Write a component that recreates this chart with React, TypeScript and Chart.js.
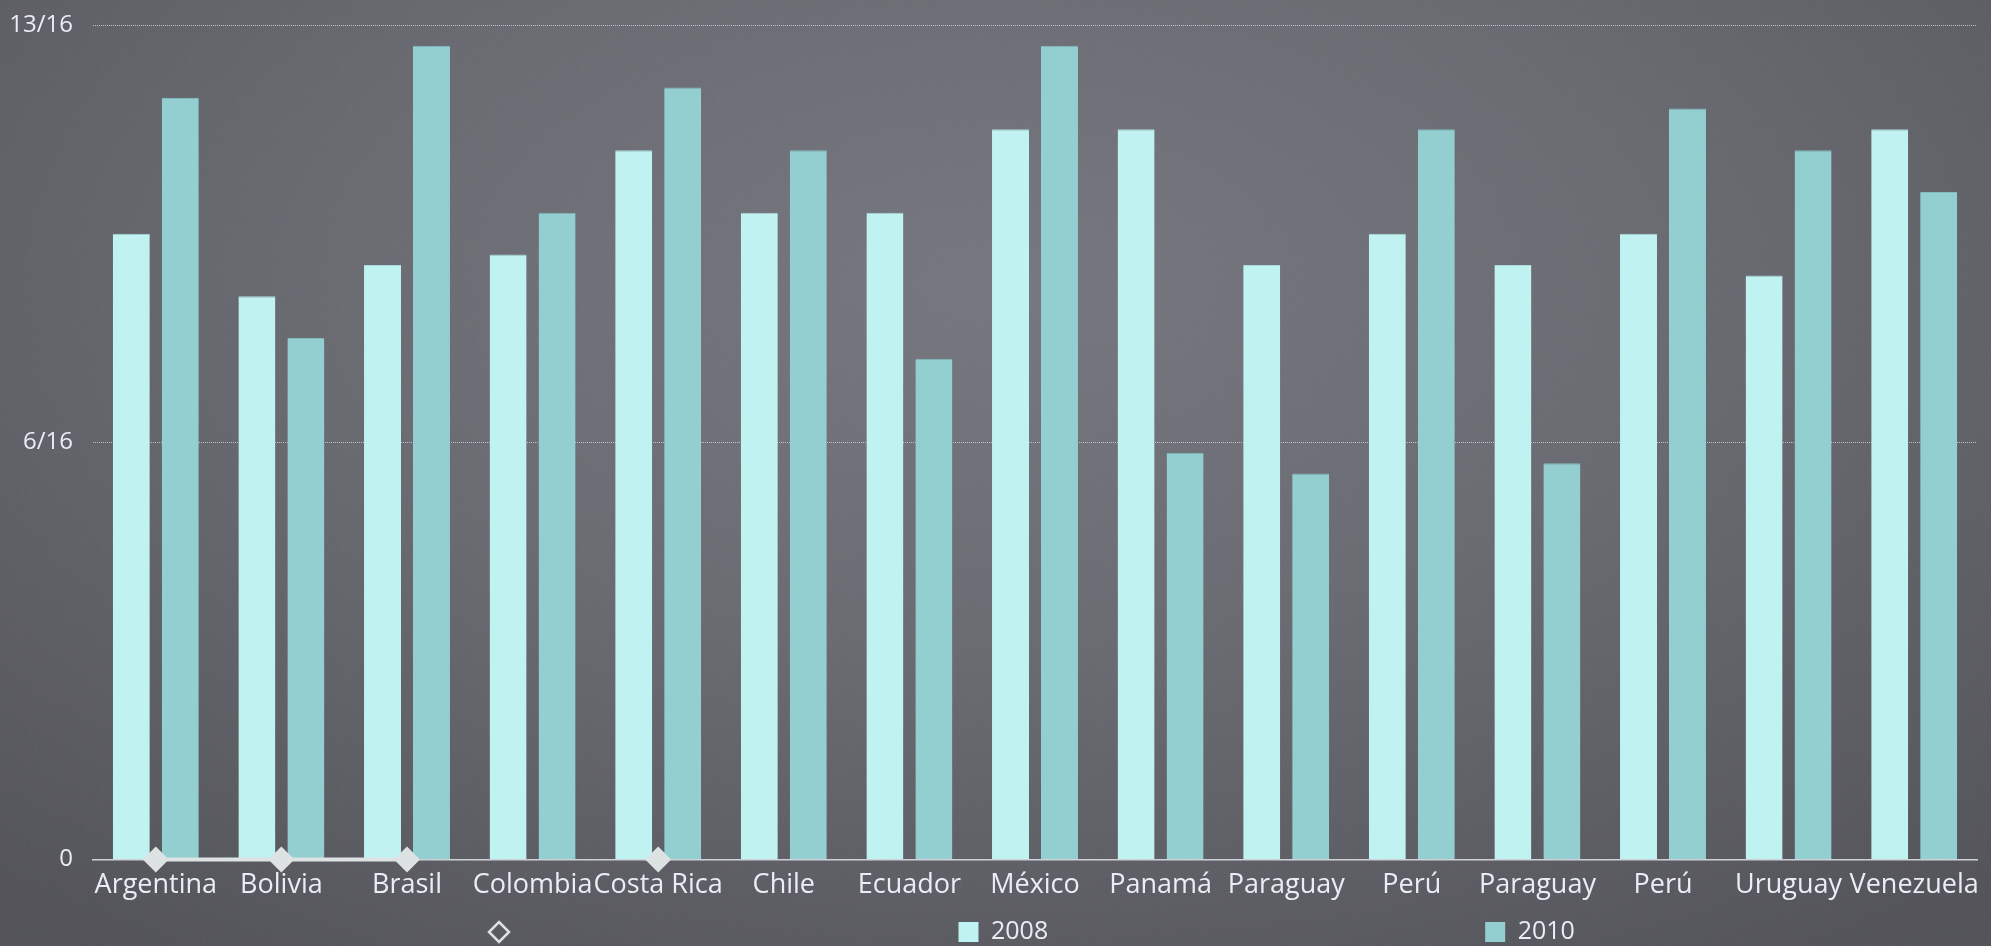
import { useEffect, useRef } from "react";
import { Chart, registerables } from "chart.js";

Chart.register(...registerables);

// Countries along the category axis
const countries = [
  "Argentina",
  "Bolivia",
  "Brasil",
  "Colombia",
  "Costa Rica",
  "Chile",
  "Ecuador",
  "México",
  "Panamá",
  "Paraguay",
  "Perú",
  "Paraguay",
  "Perú",
  "Uruguay",
  "Venezuela",
];

// Index values per year
const values2008 = [0.6, 0.54, 0.57, 0.58, 0.68, 0.62, 0.62, 0.7, 0.7, 0.57, 0.6, 0.57, 0.6, 0.56, 0.7];
const values2010 = [0.73, 0.5, 0.78, 0.62, 0.74, 0.68, 0.48, 0.78, 0.39, 0.37, 0.7, 0.38, 0.72, 0.68, 0.64];

// Marker series sitting on the baseline (gaps where no value)
const markerValues: (number | null)[] = [0, 0, 0, null, 0, null, null, null, null, null, null, null, null, null, null];
const markerLabel = "";

// Value axis range and tick step; ticks are shown as sixteenths
const yMin = 0;
const yMax = 0.8;
const yStep = 0.4;
const tickDenominator = 16;

const FONT = "'Open Sans', 'Noto Sans', sans-serif";
const TEXT_COLOR = "#ececf8";
const COLOR_2008 = "#c0f2f2";
const COLOR_2010 = "#93cfd1";
const MARKER_COLOR = "#dde3e3";

const LEGEND_FONT_SIZE = 25;
const LEGEND_BOX = 20;
const LEGEND_GAP = 437;
const LEGEND_START = 396;
const LEGEND_FROM_BOTTOM = 14;

const formatSixteenths = (v: number) => {
  const n = Math.round(v * tickDenominator);
  return n === 0 ? "0" : `${n}/${tickDenominator}`;
};

// Legend drawn as one wide row under the category labels
const bottomLegend = {
  id: "bottomLegend",
  afterDraw(chart: any) {
    const { ctx, chartArea } = chart;
    const y = chart.height - LEGEND_FROM_BOTTOM;
    let x = chartArea.left + LEGEND_START;
    ctx.save();
    ctx.font = `${LEGEND_FONT_SIZE}px ${FONT}`;
    ctx.textBaseline = "middle";
    ctx.textAlign = "left";
    chart.data.datasets.forEach((ds: any) => {
      const half = LEGEND_BOX / 2;
      if (ds.type === "line") {
        ctx.beginPath();
        ctx.moveTo(x + half, y - half);
        ctx.lineTo(x + LEGEND_BOX, y);
        ctx.lineTo(x + half, y + half);
        ctx.lineTo(x, y);
        ctx.closePath();
        ctx.lineWidth = 2.5;
        ctx.strokeStyle = MARKER_COLOR;
        ctx.stroke();
      } else {
        ctx.fillStyle = ds.backgroundColor;
        ctx.fillRect(x, y - half, LEGEND_BOX, LEGEND_BOX);
      }
      const label = ds.label || "";
      const tx = x + LEGEND_BOX + LEGEND_FONT_SIZE / 2;
      ctx.fillStyle = TEXT_COLOR;
      ctx.fillText(label, tx, y);
      x = tx + ctx.measureText(label).width + LEGEND_GAP;
    });
    ctx.restore();
  },
};

const noise =
  "url(\"data:image/svg+xml;utf8,<svg xmlns='http://www.w3.org/2000/svg' width='240' height='240'><filter id='n'><feTurbulence type='fractalNoise' baseFrequency='0.9' numOctaves='2' stitchTiles='stitch'/><feColorMatrix type='saturate' values='0'/></filter><rect width='100%' height='100%' filter='url(%23n)' opacity='0.09'/></svg>\")";

export default function App() {
  const canvasRef = useRef<HTMLCanvasElement | null>(null);

  useEffect(() => {
    const canvas = canvasRef.current;
    if (!canvas) return;
    const chart = new Chart(canvas, {
      type: "bar",
      data: {
        labels: countries,
        datasets: [
          {
            type: "line" as const,
            label: markerLabel,
            data: markerValues,
            borderColor: MARKER_COLOR,
            backgroundColor: MARKER_COLOR,
            borderWidth: 4,
            pointStyle: "rectRot",
            pointRadius: 13,
            pointBorderWidth: 0,
            pointBackgroundColor: MARKER_COLOR,
            spanGaps: false,
            clip: false as any,
            order: 0,
          },
          {
            type: "bar" as const,
            label: "2008",
            data: values2008,
            backgroundColor: COLOR_2008,
            borderColor: "#a8dcdc",
            borderWidth: { top: 1, left: 0, right: 0, bottom: 0 },
            borderSkipped: "bottom",
            categoryPercentage: 0.78,
            barPercentage: 0.755,
            order: 1,
          },
          {
            type: "bar" as const,
            label: "2010",
            data: values2010,
            backgroundColor: COLOR_2010,
            borderColor: "#7fbcbe",
            borderWidth: { top: 1, left: 0, right: 0, bottom: 0 },
            borderSkipped: "bottom",
            categoryPercentage: 0.78,
            barPercentage: 0.755,
            order: 1,
          },
        ] as any,
      },
      options: {
        animation: false,
        responsive: false,
        layout: { padding: { top: 25, right: 14, bottom: 42, left: 0 } },
        plugins: {
          legend: { display: false },
          tooltip: { enabled: false },
        },
        scales: {
          x: {
            offset: true,
            grid: { display: false },
            border: { display: true, color: "#cfd1d8", width: 1.5 },
            ticks: {
              color: TEXT_COLOR,
              font: { family: FONT, size: 27 },
              padding: 2,
              maxRotation: 0,
              autoSkip: false,
            },
          },
          y: {
            min: yMin,
            max: yMax,
            afterFit: (scale: any) => {
              scale.width = 93;
              scale.paddingTop = 0;
              scale.paddingBottom = 0;
            },
            ticks: {
              stepSize: yStep,
              color: TEXT_COLOR,
              font: { family: FONT, size: 24 },
              padding: 20,
              callback: (v: any) => formatSixteenths(Number(v)),
            },
            grid: {
              drawTicks: false,
              lineWidth: 1,
              color: (ctx: any) => (ctx.tick && ctx.tick.value === 0 ? "rgba(0,0,0,0)" : "rgba(222,222,232,0.75)"),
            },
            border: { display: false, dash: [1, 1] },
          },
        },
      },
      plugins: [bottomLegend],
    });
    return () => chart.destroy();
  }, []);

  return (
    <div
      style={{
        position: "fixed",
        left: 0,
        top: 0,
        width: 1991,
        height: 946,
        overflow: "hidden",
        backgroundColor: "#5e5f67",
        backgroundImage: `${noise}, radial-gradient(ellipse 75% 85% at 50% 30%, #73747d 0%, #67686f 45%, #4f4f56 100%)`,
      }}
    >
      <canvas ref={canvasRef} width={1991} height={946} style={{ display: "block" }} />
    </div>
  );
}
